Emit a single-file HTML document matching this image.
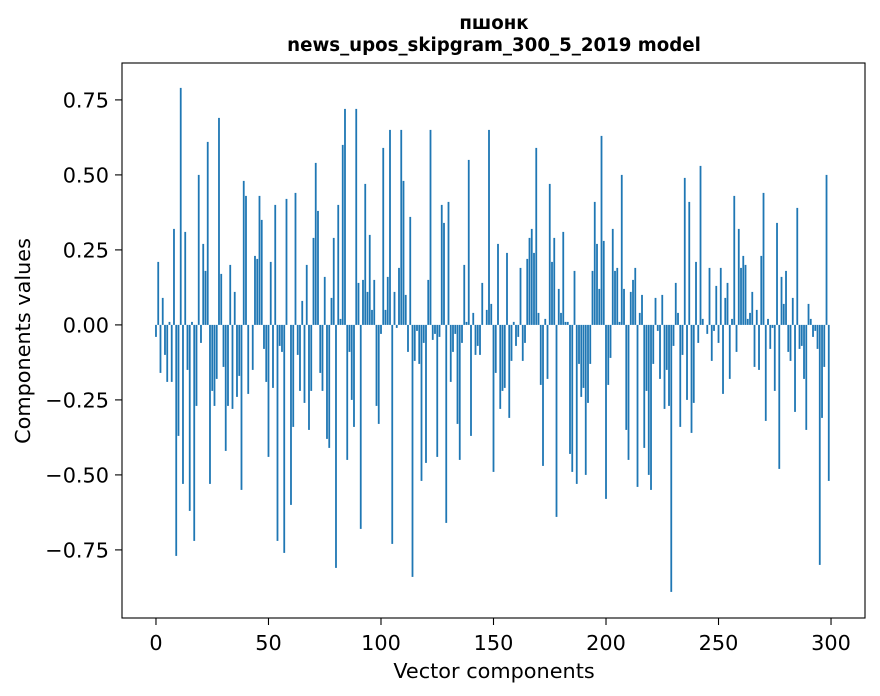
<!DOCTYPE html>
<html><head><meta charset="utf-8"><style>
body{margin:0;background:#fff;}
svg{display:block;font-family:"DejaVu Sans","Liberation Sans",sans-serif;}
</style></head><body>
<svg id="chart" width="880" height="696" viewBox="0 0 880 696" xmlns="http://www.w3.org/2000/svg">
<rect x="0" y="0" width="880" height="696" fill="#fff"/>
<text x="494" y="29" text-anchor="middle" font-size="18.2" font-weight="bold">пшонк</text>
<text x="494" y="51" text-anchor="middle" font-size="18.2" font-weight="bold">news_upos_skipgram_300_5_2019 model</text>
<g id="bars"></g>
<g id="xticks"></g>
<g id="yticks"></g>
<rect x="122" y="63" width="743" height="555" fill="none" stroke="#000" stroke-width="1.1"/>
<text x="494" y="678" text-anchor="middle" font-size="20.8">Vector components</text>
<text transform="translate(30,341) rotate(-90)" text-anchor="middle" font-size="20.8">Components values</text>
</svg>
<script>
const values = [
-0.04,0.21,-0.16,0.09,-0.10,-0.19,0.01,-0.19,0.32,-0.77,-0.37,0.79,-0.53,0.31,-0.15,-0.62,0.01,-0.72,-0.27,0.50,
-0.06,0.27,0.18,0.61,-0.53,-0.22,-0.27,-0.18,0.69,0.17,-0.14,-0.42,-0.27,0.20,-0.28,0.11,-0.24,-0.17,-0.55,0.48,
0.43,-0.23,0.00,-0.15,0.23,0.22,0.43,0.35,-0.08,-0.19,-0.44,0.21,-0.21,0.40,-0.72,-0.07,-0.09,-0.76,0.42,0.00,
-0.60,-0.34,0.44,-0.10,-0.22,0.08,-0.26,0.20,-0.35,-0.22,0.29,0.54,0.38,-0.16,-0.22,0.16,-0.38,-0.41,0.09,0.29,
-0.81,0.40,0.02,0.60,0.72,-0.45,-0.09,-0.25,-0.34,0.72,0.14,-0.68,0.15,0.47,0.11,0.30,0.05,0.15,-0.27,-0.33,
-0.03,0.59,0.05,0.16,0.65,-0.73,0.11,-0.01,0.19,0.65,0.48,0.10,-0.09,0.36,-0.84,-0.12,-0.02,-0.13,-0.52,-0.06,
-0.46,0.15,0.65,-0.05,-0.03,-0.44,-0.04,0.40,0.34,-0.66,0.41,-0.19,-0.09,-0.03,-0.33,-0.45,-0.06,0.20,0.01,0.55,
-0.37,0.04,-0.10,-0.07,-0.10,0.14,0.00,0.05,0.65,0.07,-0.49,-0.16,0.27,-0.28,-0.22,-0.21,0.24,-0.31,-0.12,0.01,
-0.07,-0.04,0.19,-0.12,-0.06,0.22,0.29,0.32,0.24,0.59,0.04,-0.20,-0.47,0.02,-0.18,0.47,0.21,0.29,-0.64,0.12,
0.04,0.31,0.01,0.01,-0.43,-0.49,0.18,-0.53,-0.13,-0.24,-0.21,-0.50,-0.26,-0.13,0.18,0.41,0.27,0.12,0.63,0.28,
-0.58,-0.20,-0.11,0.32,0.18,0.19,0.01,0.50,0.12,-0.35,-0.45,0.11,0.15,0.19,-0.54,0.04,0.10,-0.41,-0.22,-0.50,
-0.55,-0.13,0.09,-0.02,-0.18,0.10,-0.28,-0.15,-0.27,-0.89,-0.07,0.14,0.04,-0.34,-0.10,0.49,-0.25,0.41,-0.36,-0.26,
0.21,-0.06,0.53,0.02,0.00,-0.03,0.19,-0.12,-0.02,0.13,-0.06,0.19,-0.23,0.09,0.14,-0.18,0.02,0.43,-0.09,0.32,
0.19,0.23,0.20,0.02,0.04,0.11,-0.14,0.05,-0.15,0.23,0.44,-0.32,0.02,-0.08,-0.01,-0.22,0.34,-0.48,0.16,0.07,
0.18,-0.09,-0.12,0.09,-0.29,0.39,-0.08,-0.07,-0.18,-0.35,0.07,0.02,-0.04,-0.02,-0.08,-0.80,-0.31,-0.14,0.50,-0.52
];
const xTickLabels = ["0","50","100","150","200","250","300"];
const yTickLabels = ["−0.75","−0.50","−0.25","0.00","0.25","0.50","0.75"];
const xTickValues = [0,50,100,150,200,250,300];
const yTickValues = [-0.75,-0.5,-0.25,0,0.25,0.5,0.75];

const NS="http://www.w3.org/2000/svg";
const L=122,R=865,T=63,B=618;
const xMin=-15.1,xMax=315.1,yMin=-0.977,yMax=0.873;
function xs(v){return L+(v-xMin)/(xMax-xMin)*(R-L);}
function ys(v){return T+(yMax-v)/(yMax-yMin)*(B-T);}
const bars=document.getElementById('bars');
values.forEach((v,i)=>{
  const r=document.createElementNS(NS,'rect');
  const x0=xs(i-0.4),x1=xs(i+0.4);
  const y0=ys(Math.max(v,0)),y1=ys(Math.min(v,0));
  r.setAttribute('x',x0);r.setAttribute('width',x1-x0);
  r.setAttribute('y',y0);r.setAttribute('height',Math.max(y1-y0,0));
  r.setAttribute('fill','#1f77b4');
  
  
  bars.appendChild(r);
});
const xg=document.getElementById('xticks');
xTickValues.forEach((v,i)=>{
  const x=xs(v);
  const l=document.createElementNS(NS,'line');
  l.setAttribute('x1',x);l.setAttribute('x2',x);l.setAttribute('y1',B);l.setAttribute('y2',B+7);
  l.setAttribute('stroke','#000');l.setAttribute('stroke-width','1.1');
  
  
  xg.appendChild(l);
  const t=document.createElementNS(NS,'text');
  t.setAttribute('x',x);t.setAttribute('y',B+32);t.setAttribute('text-anchor','middle');t.setAttribute('font-size','20.8');
  t.textContent=xTickLabels[i];
  
  
  xg.appendChild(t);
});
const yg=document.getElementById('yticks');
yTickValues.forEach((v,i)=>{
  const y=ys(v);
  const l=document.createElementNS(NS,'line');
  l.setAttribute('x1',L-7);l.setAttribute('x2',L);l.setAttribute('y1',y);l.setAttribute('y2',y);
  l.setAttribute('stroke','#000');l.setAttribute('stroke-width','1.1');
  
  
  yg.appendChild(l);
  const t=document.createElementNS(NS,'text');
  t.setAttribute('x',L-13);t.setAttribute('y',y+7.5);t.setAttribute('text-anchor','end');t.setAttribute('font-size','20.8');
  t.textContent=yTickLabels[i];
  
  
  yg.appendChild(t);
});
</script>
</body></html>
